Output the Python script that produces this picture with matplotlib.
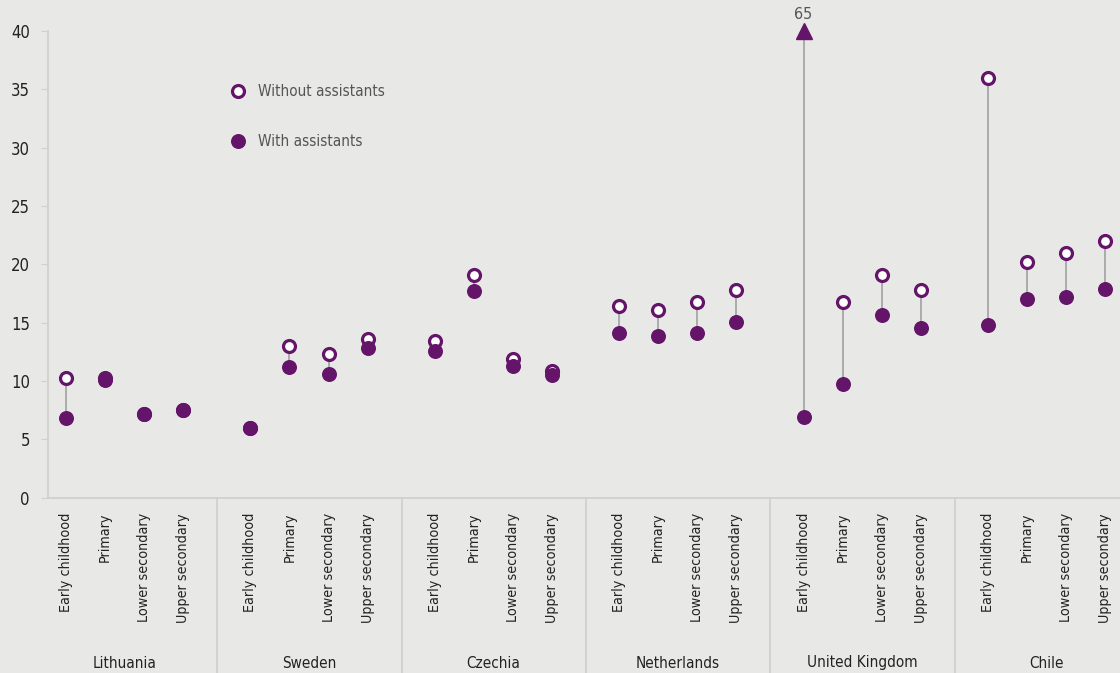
import matplotlib
matplotlib.use("Agg")
import matplotlib.pyplot as plt
import matplotlib.transforms as mtransforms
from matplotlib.lines import Line2D
import numpy as np

plt.rcParams['font.family'] = ['DejaVu Sans']
plt.rcParams['font.stretch'] = 'condensed'

countries = ["Lithuania", "Sweden", "Czechia", "Netherlands", "United Kingdom", "Chile"]
levels = ["Early childhood", "Primary", "Lower secondary", "Upper secondary"]

without_assistants = {
    "Lithuania":      [10.3, 10.3, 7.2, 7.55],
    "Sweden":         [6.0, 13.0, 12.3, 13.6],
    "Czechia":        [13.4, 19.1, 11.9, 10.9],
    "Netherlands":    [16.4, 16.1, 16.8, 17.8],
    "United Kingdom": [65.0, 16.8, 19.1, 17.8],
    "Chile":          [36.0, 20.2, 21.0, 22.0],
}
with_assistants = {
    "Lithuania":      [6.8, 10.1, 7.2, 7.55],
    "Sweden":         [6.0, 11.2, 10.6, 12.85],
    "Czechia":        [12.6, 17.7, 11.3, 10.5],
    "Netherlands":    [14.1, 13.9, 14.1, 15.1],
    "United Kingdom": [6.95, 9.75, 15.7, 14.55],
    "Chile":          [14.8, 17.0, 17.2, 17.9],
}

YMAX = 40
PURPLE = "#641469"
BG = "#e8e9e6"
GRAY_LINE = "#a6a6a6"
AXIS_COL = "#d0d1cd"

GROUP_W = 4.72
SEP_OFF = 0.85

fig = plt.figure(figsize=(11.2, 6.73), dpi=100, facecolor=BG)
ax = fig.add_axes([48/1120, 1-497.7/673, 1-48/1120, (497.7-31)/673])
ax.set_facecolor(BG)

xs_all, labels_all = [], []
for g, c in enumerate(countries):
    for i, lev in enumerate(levels):
        x = g*GROUP_W + i
        xs_all.append(x)
        labels_all.append(lev)
        wo = without_assistants[c][i]
        wi = with_assistants[c][i]
        top = min(wo, YMAX)
        ax.plot([x, x], [wi, top], color=GRAY_LINE, lw=1.3, zorder=1, solid_capstyle='butt')
        if wo > YMAX:
            ax.plot([x], [YMAX], marker='^', ms=12, color=PURPLE, mec=PURPLE,
                    clip_on=False, zorder=3, linestyle='none')
            ax.text(x, YMAX + 0.75, f"{wo:.0f}", ha='center', va='bottom',
                    fontsize=11.5, color='#555555')
        else:
            ax.plot([x], [wo], marker='o', ms=8.6, mfc='white', mec=PURPLE, mew=2.3,
                    linestyle='none', zorder=2, clip_on=False)
        ax.plot([x], [wi], marker='o', ms=10.8, mfc=PURPLE, mec=PURPLE, mew=0,
                linestyle='none', zorder=3, clip_on=False)

ax.set_ylim(0, YMAX)
ax.set_xlim(-0.46, 5*GROUP_W + 3 + 0.38)
ax.set_yticks(np.arange(0, YMAX + 1, 5))
ax.tick_params(axis='y', length=5, color=AXIS_COL, labelsize=12, labelcolor='#222222', pad=8)
ax.set_xticks(xs_all)
ax.set_xticklabels(labels_all, rotation=90, fontsize=10.3, color='#222222')
ax.tick_params(axis='x', length=0, pad=11)
for s in ['top', 'right']:
    ax.spines[s].set_visible(False)
for s in ['left', 'bottom']:
    ax.spines[s].set_color(AXIS_COL)
    ax.spines[s].set_linewidth(1.3)

trans = mtransforms.blended_transform_factory(ax.transData, ax.transAxes)
bottom_frac = -(673-497.7)/(497.7-31)
for g in range(1, len(countries)):
    xsep = g*GROUP_W - SEP_OFF
    ax.add_line(Line2D([xsep, xsep], [0, bottom_frac], transform=trans,
                       color=AXIS_COL, lw=1.3, clip_on=False))

country_y = -(663-497.7)/(497.7-31)
for g, c in enumerate(countries):
    xc = g*GROUP_W + 1.5
    ax.text(xc, country_y, c, transform=trans, ha='center', va='center',
            fontsize=11, color='#222222')

handles = [
    Line2D([], [], marker='o', ms=8.6, mfc='white', mec=PURPLE, mew=2.3, linestyle='none'),
    Line2D([], [], marker='o', ms=10.8, mfc=PURPLE, mec=PURPLE, mew=0, linestyle='none'),
]
leg = ax.legend(handles, ["Without assistants", "With assistants"],
                loc='upper left', bbox_to_anchor=((223-48)/1072, (497.7-78)/466.7),
                frameon=False, fontsize=11, labelspacing=2.3, handletextpad=0.7,
                handlelength=1.2, borderaxespad=0)
for t in leg.get_texts():
    t.set_color('#555555')

fig.savefig("out.png", dpi=100, facecolor=BG)
